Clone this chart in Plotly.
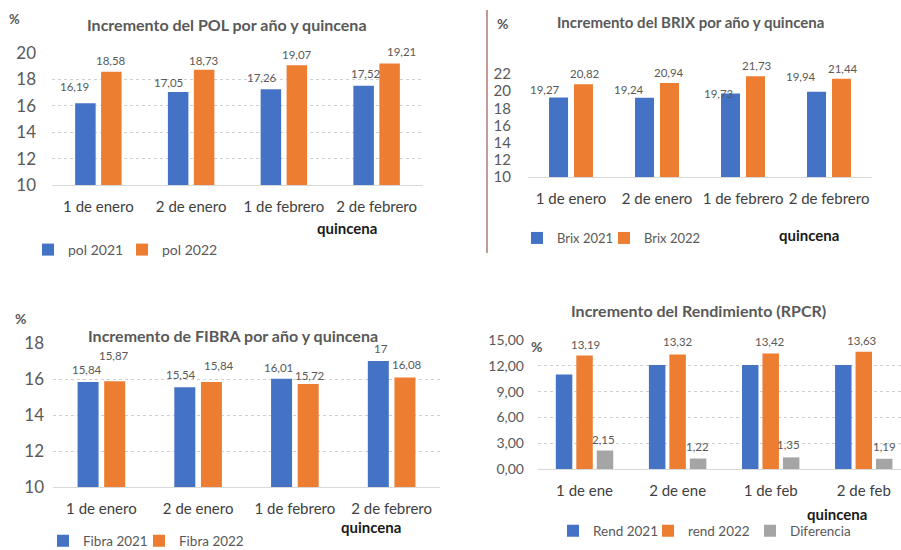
import plotly.graph_objects as go

# ---------------- data ----------------
quincenas = ["1 de enero", "2 de enero", "1 de febrero", "2 de febrero"]
quincenas_short = ["1 de ene", "2 de ene", "1 de feb", "2 de feb"]

pol_2021 = [16.19, 17.05, 17.26, 17.52]
pol_2022 = [18.58, 18.73, 19.07, 19.21]

brix_2021 = [19.27, 19.24, 19.73, 19.94]
brix_2022 = [20.82, 20.94, 21.73, 21.44]

fibra_2021 = [15.84, 15.54, 16.01, 17.0]
fibra_2022 = [15.87, 15.84, 15.72, 16.08]

rend_2021 = [11.0, 12.1, 12.1, 12.1]
rend_2022 = [13.19, 13.32, 13.42, 13.63]
diferencia = [2.15, 1.22, 1.35, 1.19]

BLUE = "#4472C4"
ORANGE = "#ED7D31"
GRAY = "#A5A5A5"
TXT = "#595959"
FONT = "Lato, 'Open Sans', sans-serif"

W, H = 901, 550


def fx(px):
    return px / W


def fy(py):
    return 1 - py / H


def fmt(v):
    if float(v).is_integer():
        return str(int(v))
    return f"{v:.2f}".replace(".", ",")


fig = go.Figure()
legend_layouts = {}
legend_count = [0]


def add_bar(cats, vals, name, color, xa, ya, leg_pos, center, width,
            label=True, nudges=None, base_shift=11, lsize=11.5):
    legend_count[0] += 1
    lid = "legend" if legend_count[0] == 1 else f"legend{legend_count[0]}"
    lx, ly, lsz = leg_pos
    legend_layouts[lid] = dict(
        x=fx(lx), y=fy(ly), xanchor="left", yanchor="middle",
        orientation="h", font=dict(family=FONT, color=TXT, size=lsz),
        bgcolor="rgba(0,0,0,0)", itemclick=False, itemdoubleclick=False)
    fig.add_trace(go.Bar(
        x=cats, y=vals, name=name,
        marker=dict(color=color, line=dict(width=0)),
        width=width, offset=center - width / 2,
        xaxis=xa, yaxis=ya, legend=lid,
        hoverinfo="x+y+name",
    ))
    if not label:
        return
    for i, v in enumerate(vals):
        dx, dy = (nudges[i] if nudges else (0, 0))
        fig.add_annotation(
            x=i + center, y=v, xref=xa, yref=ya,
            text=fmt(v), showarrow=False,
            xanchor="center", yanchor="middle",
            xshift=dx, yshift=base_shift + dy,
            font=dict(family=FONT, size=lsize, color=TXT),
        )


# Panel 1: POL
add_bar(quincenas, pol_2021, "pol 2021", BLUE, "x", "y", (28, 250, 14), -0.14, 0.221,
        nudges=[(-11, 6), (-10, -2), (-9, 1), (2, 1)])
add_bar(quincenas, pol_2022, "pol 2022", ORANGE, "x", "y", (122, 250, 14), 0.14, 0.221,
        nudges=[(0, 0), (0, -2), (0, 0), (12, 1)])
# Panel 2: BRIX
add_bar(quincenas, brix_2021, "Brix 2021", BLUE, "x2", "y2", (517, 238, 13), -0.145, 0.221,
        nudges=[(-14, -2.5), (-15.5, -2), (-12, -10.5), (-15.5, 5)], base_shift=10.5)
add_bar(quincenas, brix_2022, "Brix 2022", ORANGE, "x2", "y2", (604, 238, 13), 0.145, 0.221,
        nudges=[(2, 0), (0, 0), (1.5, 0), (2, 0)], base_shift=10.5)
# Panel 3: FIBRA
add_bar(quincenas, fibra_2021, "Fibra 2021", BLUE, "x3", "y3", (43, 541, 13.5), -0.1375, 0.217,
        nudges=[(-1, 1), (-4, 2), (-3, 0.5), (3, 1.7)])
add_bar(quincenas, fibra_2022, "Fibra 2022", ORANGE, "x3", "y3", (139, 541, 13.5), 0.1375, 0.217,
        nudges=[(-1, 15), (8, 5), (1.5, -2), (2, 2.3)])
# Panel 4: Rendimiento
add_bar(quincenas_short, rend_2021, "Rend 2021", BLUE, "x4", "y4", (553, 531, 13.5), -0.22, 0.177,
        label=False)
add_bar(quincenas_short, rend_2022, "rend 2022", ORANGE, "x4", "y4", (648, 531, 13.5), 0.0, 0.177,
        nudges=[(1, 0), (0, 1), (-1, 1), (-2, 0)], base_shift=11.5)
add_bar(quincenas_short, diferencia, "Diferencia", GRAY, "x4", "y4", (750, 531, 13.5), 0.22, 0.177,
        nudges=[(-2, 0), (-1, 0.5), (-3, 1), (0, 0.5)], base_shift=11.5)

catfont = dict(family=FONT, color="#404040", size=15)


def xaxis(dom, anchor, rng, showline=True):
    return dict(domain=dom, anchor=anchor, range=rng, showgrid=False, tickfont=catfont,
                showline=showline, linecolor="#d9d9d9", linewidth=1,
                ticks="", ticklabelstandoff=8, fixedrange=True)


def yaxis(dom, anchor, rng, dtick, grid=True, size=17, standoff=14, tickformat=None):
    d = dict(domain=dom, anchor=anchor, range=rng, dtick=dtick, tick0=0,
             showgrid=grid, gridcolor="#d0d0d0", griddash="dot", gridwidth=1,
             zeroline=False, showline=False, ticks="",
             tickfont=dict(family=FONT, color=TXT, size=size),
             ticklabelstandoff=standoff, fixedrange=True)
    if tickformat:
        d["tickformat"] = tickformat
    return d


fig.update_layout(
    width=W, height=H,
    margin=dict(l=0, r=0, t=0, b=0, autoexpand=False),
    paper_bgcolor="white", plot_bgcolor="white",
    separators=",.",
    barmode="group",
    font=dict(family=FONT, color=TXT),
    xaxis=xaxis([fx(52), fx(423)], "y", [-0.5, 3.5]),
    yaxis=yaxis([fy(185), fy(53)], "x", [10, 20], 2, standoff=15),
    xaxis2=xaxis([fx(528), fx(872)], "y2", [-0.5, 3.5]),
    yaxis2=yaxis([fy(177), fy(74)], "x2", [10, 22], 2, grid=False, size=15, standoff=16),
    xaxis3=xaxis([fx(53), fx(440)], "y3", [-0.5, 3.5]),
    yaxis3=yaxis([fy(487), fy(343)], "x3", [10, 18], 2, standoff=8),
    xaxis4=xaxis([fx(538), 1.0], "y4", [-0.5, 3.4]),
    yaxis4=yaxis([fy(469), fy(340)], "x4", [0, 15], 3, size=14, standoff=13, tickformat=".2f"),
    showlegend=True,
    **legend_layouts,
)

annots = [
    # titles
    dict(text="<b>Incremento del POL por año y quincena</b>", x=fx(227), y=fy(25), size=16),
    dict(text="<b>Incremento del BRIX por año y quincena</b>", x=fx(690), y=fy(22), size=15),
    dict(text="<b>Incremento de FIBRA por año y quincena</b>", x=fx(233), y=fy(335), size=16),
    dict(text="<b>Incremento del Rendimiento (RPCR)</b>", x=fx(698), y=fy(310), size=16),
    # % labels
    dict(text="<b>%</b>", x=fx(14), y=fy(19), size=13),
    dict(text="<b>%</b>", x=fx(502), y=fy(23), size=14),
    dict(text="<b>%</b>", x=fx(20), y=fy(318), size=14),
    dict(text="<b>%</b>", x=fx(536), y=fy(346), size=14),
    # quincena
    dict(text="<b>quincena</b>", x=fx(347), y=fy(228), size=15, color="#1a1a1a"),
    dict(text="<b>quincena</b>", x=fx(809), y=fy(235), size=15, color="#1a1a1a"),
    dict(text="<b>quincena</b>", x=fx(371), y=fy(527), size=15, color="#1a1a1a"),
    dict(text="<b>quincena</b>", x=fx(837), y=fy(514), size=15, color="#1a1a1a"),
]
for a in annots:
    fig.add_annotation(
        text=a["text"], x=a["x"], y=a["y"], xref="paper", yref="paper",
        xanchor="center", yanchor="middle", showarrow=False,
        font=dict(family=FONT, size=a["size"], color=a.get("color", TXT)),
    )

# separator line between top panels
fig.add_shape(type="line", xref="paper", yref="paper",
              x0=fx(487), x1=fx(487), y0=fy(10), y1=fy(253),
              line=dict(color="#c49a98", width=2))

fig.write_html("out.html")
